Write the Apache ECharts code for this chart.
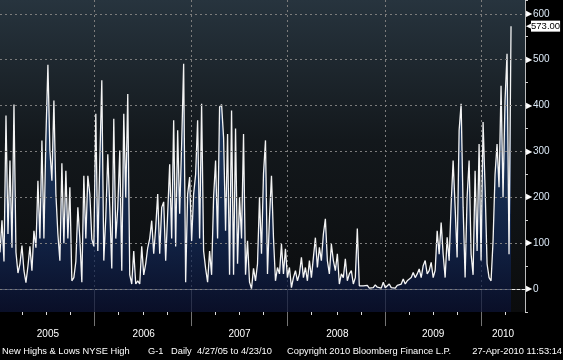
<!DOCTYPE html>
<html><head><meta charset="utf-8">
<script src="https://cdn.jsdelivr.net/npm/echarts@6/dist/echarts.min.js"></script>
<style>html,body{margin:0;padding:0;background:#000}#c{width:563px;height:360px}</style>
</head><body><div id="c"></div><script>
// Year labels
const years = ['2005','2006','2007','2008','2009','2010'];
// New highs per period, one array per calendar year (as drawn)
const h2005 = [80,150,60,378,120,280,90,402,80,35,55,95,40,14,50,93,40,127,90,236,110,324,110,331,489,302,236,411,207,120,62,274,100,258,110,222,18,25,60,178,110,15,247,110,247,207,109];
const h2006 = [93,382,83,280,455,62,157,294,178,45,371,110,178,302,40,382,200,425,31,11,83,11,18,11,93,31,55,90,110,149,77,134,207,77,178,190,62,164,272,110,368,93,346,164,316,491,15,207,244];
const h2007 = [105,207,250,368,110,404,83,45,15,83,31,200,280,110,397,402,331,127,338,31,389,31,350,55,200,110,338,31,105,15,1,45,18,55,200,77,251,324,33,156,247,112,18,47,33,98,33,88];
const h2008 = [25,47,3,25,40,18,33,69,25,47,18,62,25,69,112,47,91,62,120,153,62,33,98,62,40,77,11,33,25,66,18,33,40,11,25,132,7,3,7,3,8,2,6,3,9,4,7,2,15];
const h2009 = [3,5,11,3,6,2,8,4,11,22,11,18,14,25,36,25,33,44,25,51,62,33,40,58,25,41,127,76,145,76,25,113,62,185,280,178,69,346,404,178,25,200,280,76,31,258,83,316];
const h2010 = [62,364,222,55,25,18,105,250,316,222,443,200,411,513,76,573];
// Y axis tick labels
const yTicks = [0,100,200,300,400,500,600];

const segs = [h2005,h2006,h2007,h2008,h2009,h2010];
const values = [].concat(...segs);
const totalCats = values.length + 7;
const cats = Array.from({length: totalCats}, (_, i) => 'p' + i);
const bounds = [];
let acc = 0;
segs.forEach((s, k) => { if (k > 0) bounds.push(acc); acc += s.length; });
const edges = [0].concat(bounds, [totalCats - 1]);
const mids = years.map((y, k) => Math.round((edges[k] + edges[k + 1]) / 2));
const quarters = [];
edges.slice(0, -1).forEach((b, k) => {
  const e = edges[k + 1];
  if (k === 0) { [12, 24, 36].forEach(q => quarters.push(bounds[0] - q)); }
  else if (k === years.length - 1) { quarters.push(b + 12); }
  else { const L = e - b; [1, 2, 3].forEach(q => quarters.push(b + Math.round(L * q / 4))); }
});

const chart = echarts.init(document.getElementById('c'), null, {renderer: 'canvas'});
const font = "'Liberation Sans', Arial, sans-serif";
const footTxt = (text, pos) => Object.assign({text, top: 347, padding: 0,
  textStyle: {color: '#ffffff', fontSize: 9.3, fontWeight: 'normal', fontFamily: font}}, pos);

chart.setOption({
  backgroundColor: '#000000',
  animation: false,
  textStyle: {fontFamily: font},
  title: [
    footTxt('New Highs & Lows NYSE High', {left: 2}),
    footTxt('G-1', {left: 148}),
    footTxt('Daily', {left: 171}),
    footTxt('4/27/05 to 4/23/10', {left: 197}),
    footTxt('Copyright 2010 Bloomberg Finance L.P.', {left: 287}),
    footTxt('27-Apr-2010 11:53:14', {right: 1})
  ],
  grid: {left: 0, top: 0, right: 38, bottom: 48, show: true, borderWidth: 0,
    backgroundColor: {type: 'linear', x: 0, y: 0, x2: 0, y2: 1, colorStops: [
      {offset: 0, color: '#27343e'}, {offset: 0.45, color: '#13181c'}, {offset: 1, color: '#0b0c0d'}]}},
  xAxis: [{
    type: 'category', data: cats, boundaryGap: false, position: 'bottom',
    axisLine: {show: true, lineStyle: {color: '#e8e8e8', width: 1}},
    axisTick: {show: true, interval: (i) => bounds.includes(i), length: 37, lineStyle: {color: '#747474'}},
    axisLabel: {show: true, interval: (i) => mids.includes(i),
      formatter: (v, i) => years[mids.indexOf(i)] || '', color: '#ffffff', fontSize: 10, margin: 17},
    splitLine: {show: true, interval: (i) => bounds.includes(i), lineStyle: {color: '#7c7c7c', type: [2, 3], width: 1}}
  }, {
    type: 'category', data: cats, boundaryGap: false, position: 'bottom',
    axisLine: {show: false},
    axisTick: {show: true, interval: (i) => quarters.includes(i), length: 3, lineStyle: {color: '#dddddd'}},
    axisLabel: {show: false}, splitLine: {show: false}
  }],
  yAxis: {
    type: 'value', position: 'right', min: -50, max: 630, interval: 50,
    axisLine: {show: true, lineStyle: {color: '#bdbdbd', width: 1}},
    axisTick: {show: true, length: 3, lineStyle: {color: '#cfcfcf'}},
    splitLine: {show: false},
    axisLabel: {margin: 1, formatter: (v) => yTicks.includes(v) ? '{t|▶}{v|' + v + '}' : '',
      rich: {t: {color: '#ffffff', fontSize: 8}, v: {color: '#dce9f6', fontSize: 10, padding: [0, 0, 0, 1]}}}
  },
  series: [{
    type: 'line', data: values, symbol: 'none', xAxisIndex: 0,
    lineStyle: {color: '#f4f4f4', width: 1.3},
    areaStyle: {origin: 'start', color: {type: 'linear', x: 0, y: 0, x2: 0, y2: 312, global: true, colorStops: [
      {offset: 0, color: '#2d5a98'}, {offset: 0.55, color: '#1b3a6a'}, {offset: 0.8, color: '#112654'}, {offset: 1, color: '#091033'}]}},
    endLabel: {show: true, distance: 15,
      formatter: (p) => '{a|◀}{b|' + Number(Array.isArray(p.value) ? p.value[1] : p.value).toFixed(2) + '}',
      rich: {a: {color: '#ffffff', fontSize: 7}, b: {backgroundColor: '#ffffff', color: '#000000', fontSize: 9.5, padding: [1, 0, 0, 0]}}},
    markLine: {silent: true, symbol: ['none', 'none'], label: {show: false},
      lineStyle: {color: '#7c7c7c', type: [2, 3], width: 1},
      data: yTicks.map(v => ({yAxis: v}))}
  }]
});
</script></body></html>
